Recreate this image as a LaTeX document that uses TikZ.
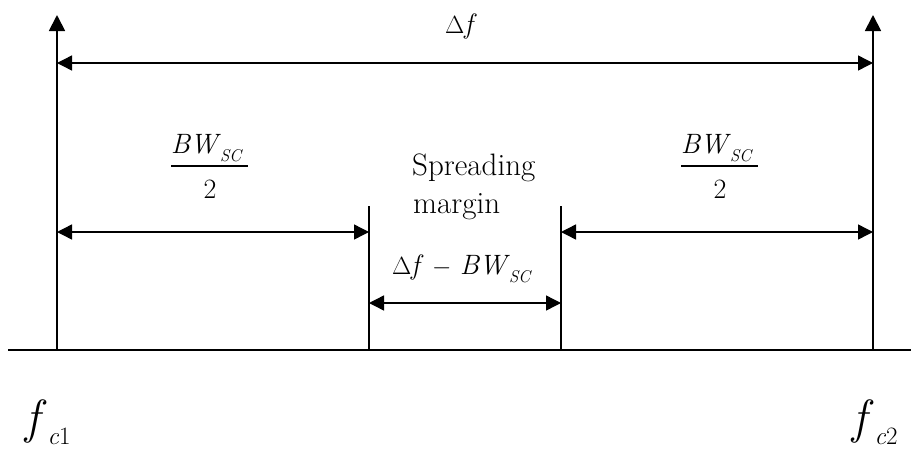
\documentclass[tikz,border=0pt]{standalone}
\usepackage{fontspec}
\usetikzlibrary{arrows.meta}
\newcommand{\BWsc}{\textit{BW}\kern-1pt\raisebox{-8pt}{\fontsize{17}{17}\selectfont\textit{SC}}}
\tikzset{
  vline/.style={line width=1.8pt},
  hline/.style={line width=1.4pt},
  dim/.style={hline,{Triangle[length=15pt,width=15pt]}-{Triangle[length=15pt,width=15pt]}},
  up/.style={vline,-{Triangle[length=16pt,width=16pt]}},
  lbl/.style={inner sep=0pt,font=\fontsize{28}{34}\selectfont},
  txt/.style={inner sep=0pt,font=\fontsize{31}{36}\selectfont},
  big/.style={inner sep=0pt,font=\fontsize{48}{52}\selectfont},
}
\begin{document}
\begin{tikzpicture}[x=1pt,y=-1pt]
\useasboundingbox (0,0) rectangle (911,453);
% coordinates
\coordinate (AxL) at (8,350);
\coordinate (AxR) at (911,350);
\coordinate (L0) at (57,350);
\coordinate (Ltop) at (57,15);
\coordinate (R0) at (873,350);
\coordinate (Rtop) at (873,15);
\coordinate (M1b) at (369,350);
\coordinate (M1t) at (369,206);
\coordinate (M2b) at (561,350);
\coordinate (M2t) at (561,206);
\coordinate (DfL) at (57,63);
\coordinate (DfR) at (873,63);
\coordinate (BL1) at (57,232);
\coordinate (BL2) at (369,232);
\coordinate (BR1) at (561,232);
\coordinate (BR2) at (873,232);
\coordinate (SM1) at (369,303);
\coordinate (SM2) at (561,303);
% axis
\draw[hline] (AxL) -- (AxR);
% verticals
\draw[up] (L0) -- (Ltop);
\draw[up] (R0) -- (Rtop);
\draw[vline] (M1b) -- (M1t);
\draw[vline] (M2b) -- (M2t);
% dimension arrows
\draw[dim] (DfL) -- (DfR);
\draw[dim] (BL1) -- (BL2);
\draw[dim] (BR1) -- (BR2);
\draw[dim] (SM1) -- (SM2);
% labels
\node[lbl,anchor=base] (df) at (461,33) {$\Delta$\textit{f}};
% left fraction
\node[lbl,anchor=base] (numL) at (207,153) {\BWsc};
\coordinate (barL1) at (171,166);
\coordinate (barL2) at (248,166);
\draw[line width=1.3pt] (barL1) -- (barL2);
\node[lbl,anchor=base] (denL) at (210,198) {2};
% right fraction
\node[lbl,anchor=base] (numR) at (717,153) {\BWsc};
\coordinate (barR1) at (681,166);
\coordinate (barR2) at (758,166);
\draw[line width=1.3pt] (barR1) -- (barR2);
\node[lbl,anchor=base] (denR) at (720,198) {2};
% spreading margin
\node[txt,anchor=base west] (spr) at (412,175) {Spreading};
\node[txt,anchor=base west] (mar) at (413,213) {margin};
% delta f - BW
\node[lbl,anchor=base] (dfbw) at (462,274) {$\Delta$\textit{f} $-$ \BWsc};
% f_c1, f_c2
\node[big,anchor=base west] (fc1) at (25,433) {\textit{f}\kern1pt\raisebox{-11pt}{\fontsize{25}{25}\selectfont\textit{c}1}};
\node[big,anchor=base west] (fc2) at (852,433) {\textit{f}\kern1pt\raisebox{-11pt}{\fontsize{25}{25}\selectfont\textit{c}2}};
\end{tikzpicture}
\end{document}
